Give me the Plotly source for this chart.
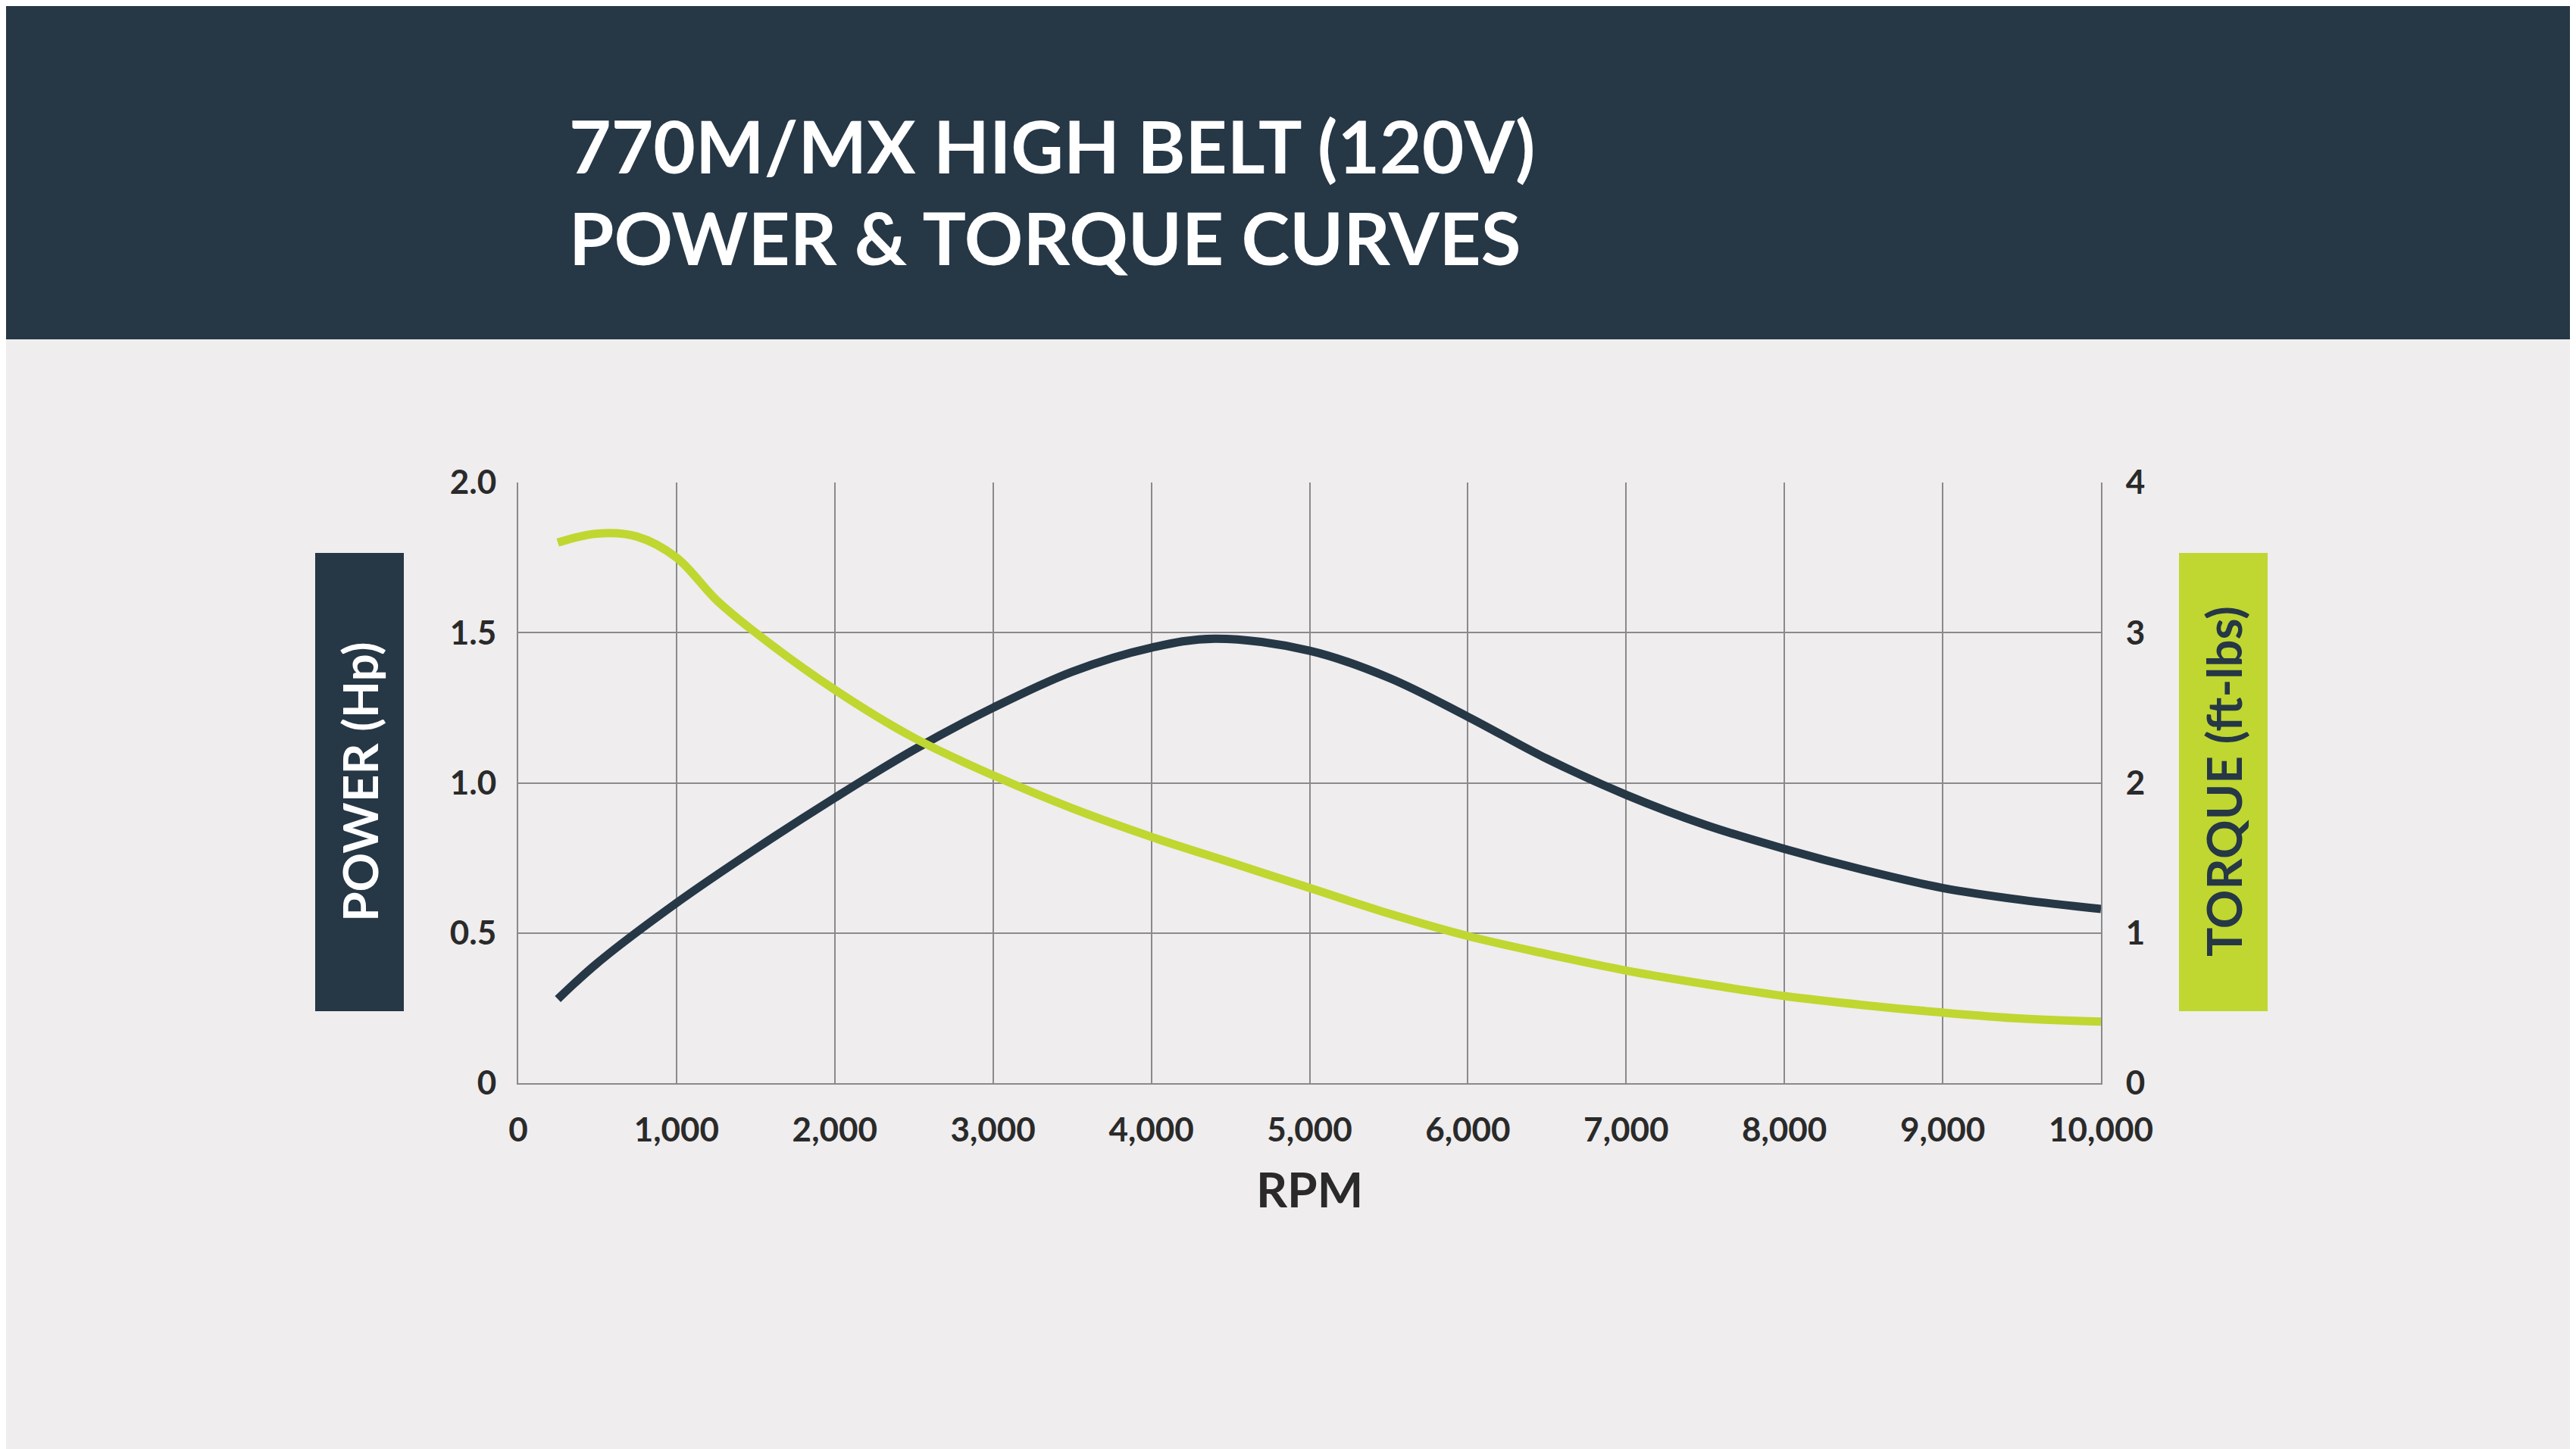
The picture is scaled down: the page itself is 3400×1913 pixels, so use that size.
import plotly.graph_objects as go

rpm_power = [250, 500, 1000, 1500, 2000, 2500, 3000, 3500, 4000, 4400, 5000, 5500, 6000, 6500, 7000, 7500, 8000, 8500, 9000, 9500, 10000]
power_hp = [0.28, 0.40, 0.60, 0.78, 0.95, 1.11, 1.25, 1.37, 1.45, 1.48, 1.44, 1.35, 1.22, 1.08, 0.96, 0.86, 0.78, 0.71, 0.65, 0.61, 0.58]

rpm_torque = [250, 500, 750, 1000, 1250, 1500, 2000, 2500, 3000, 3500, 4000, 4500, 5000, 5500, 6000, 6500, 7000, 7500, 8000, 8500, 9000, 9500, 10000]
torque_ftlb = [3.60, 3.66, 3.64, 3.50, 3.22, 3.00, 2.62, 2.30, 2.05, 1.83, 1.64, 1.47, 1.30, 1.13, 0.98, 0.86, 0.75, 0.66, 0.58, 0.52, 0.47, 0.43, 0.41]

x_ticks = [0, 1000, 2000, 3000, 4000, 5000, 6000, 7000, 8000, 9000, 10000]
x_labels = ["0", "1,000", "2,000", "3,000", "4,000", "5,000", "6,000", "7,000", "8,000", "9,000", "10,000"]
y_ticks = [0, 0.5, 1.0, 1.5, 2.0]
y_labels = ["0", "0.5", "1.0", "1.5", "2.0"]
y2_ticks = [0, 1, 2, 3, 4]

DARK = "#263746"
GREEN = "#bfd730"
BG = "#efedee"
FONT = "Lato"

W, H = 3400, 1913
L, R, T, B = 676, 2765, 629, 1422
pw, ph = R - L, B - T
def px(x): return (x - L) / pw
def py(y): return (B - y) / ph

fig = go.Figure()
fig.add_trace(go.Scatter(x=rpm_power, y=power_hp, mode="lines", line=dict(color=DARK, width=11, shape="spline"), showlegend=False))
fig.add_trace(go.Scatter(x=rpm_torque, y=torque_ftlb, mode="lines", yaxis="y2", line=dict(color=GREEN, width=11, shape="spline"), showlegend=False))

tickfont = dict(family=FONT, size=44, color="#2a2a2a")
grid = "#8a8a8c"
fig.update_layout(
    width=W, height=H,
    margin=dict(l=L, r=W - R, t=T, b=H - B),
    paper_bgcolor=BG, plot_bgcolor=BG,
    xaxis=dict(range=[0, 10000], tickvals=x_ticks, ticktext=["<b>%s</b>" % t for t in x_labels], showgrid=True, gridcolor=grid, gridwidth=2,
               zeroline=False, showline=True, linecolor=grid, linewidth=2, tickfont=tickfont, ticks="", ticklabelstandoff=22,
               title=dict(text="<b>RPM</b>", font=dict(family=FONT, size=64, color="#2a2a2a"), standoff=34)),
    yaxis=dict(range=[0, 2.0], tickvals=y_ticks, ticktext=["<b>%s</b>" % t for t in y_labels], showgrid=True, gridcolor=grid, gridwidth=2,
               zeroline=False, showline=True, linecolor=grid, linewidth=2, tickfont=tickfont, ticks="", ticklabelstandoff=18),
    yaxis2=dict(range=[0, 4], tickvals=y2_ticks, ticktext=["<b>%d</b>" % t for t in y2_ticks], overlaying="y", side="right", showgrid=False,
                zeroline=False, showline=True, linecolor=grid, linewidth=2, tickfont=tickfont, ticks="", ticklabelstandoff=22),
)

shapes = [
    dict(type="rect", xref="paper", yref="paper", x0=px(0), x1=px(W), y0=py(0), y1=py(440), fillcolor=DARK, line=dict(width=0), layer="below"),
    dict(type="rect", xref="paper", yref="paper", x0=px(408), x1=px(525), y0=py(722), y1=py(1327), fillcolor=DARK, line=dict(width=0)),
    dict(type="rect", xref="paper", yref="paper", x0=px(2868), x1=px(2985), y0=py(722), y1=py(1327), fillcolor=GREEN, line=dict(width=0)),
]
fig.update_layout(shapes=shapes)

ann = [
    dict(text="<b>770M/MX HIGH BELT (120V)</b>", x=px(741), y=py(184), xanchor="left", yanchor="middle",
         font=dict(family=FONT, size=96, color="white")),
    dict(text="<b>POWER & TORQUE CURVES</b>", x=px(741), y=py(304), xanchor="left", yanchor="middle",
         font=dict(family=FONT, size=96, color="white")),
    dict(text="<b>POWER (Hp)</b>", x=px(466), y=py(1024), textangle=-90, xanchor="center", yanchor="middle",
         font=dict(family=FONT, size=64, color="white")),
    dict(text="<b>TORQUE (ft-lbs)</b>", x=px(2926), y=py(1024), textangle=-90, xanchor="center", yanchor="middle",
         font=dict(family=FONT, size=64, color=DARK)),
]
for a in ann:
    a.update(xref="paper", yref="paper", showarrow=False)
fig.update_layout(annotations=ann)

fig.write_html("out.html")
